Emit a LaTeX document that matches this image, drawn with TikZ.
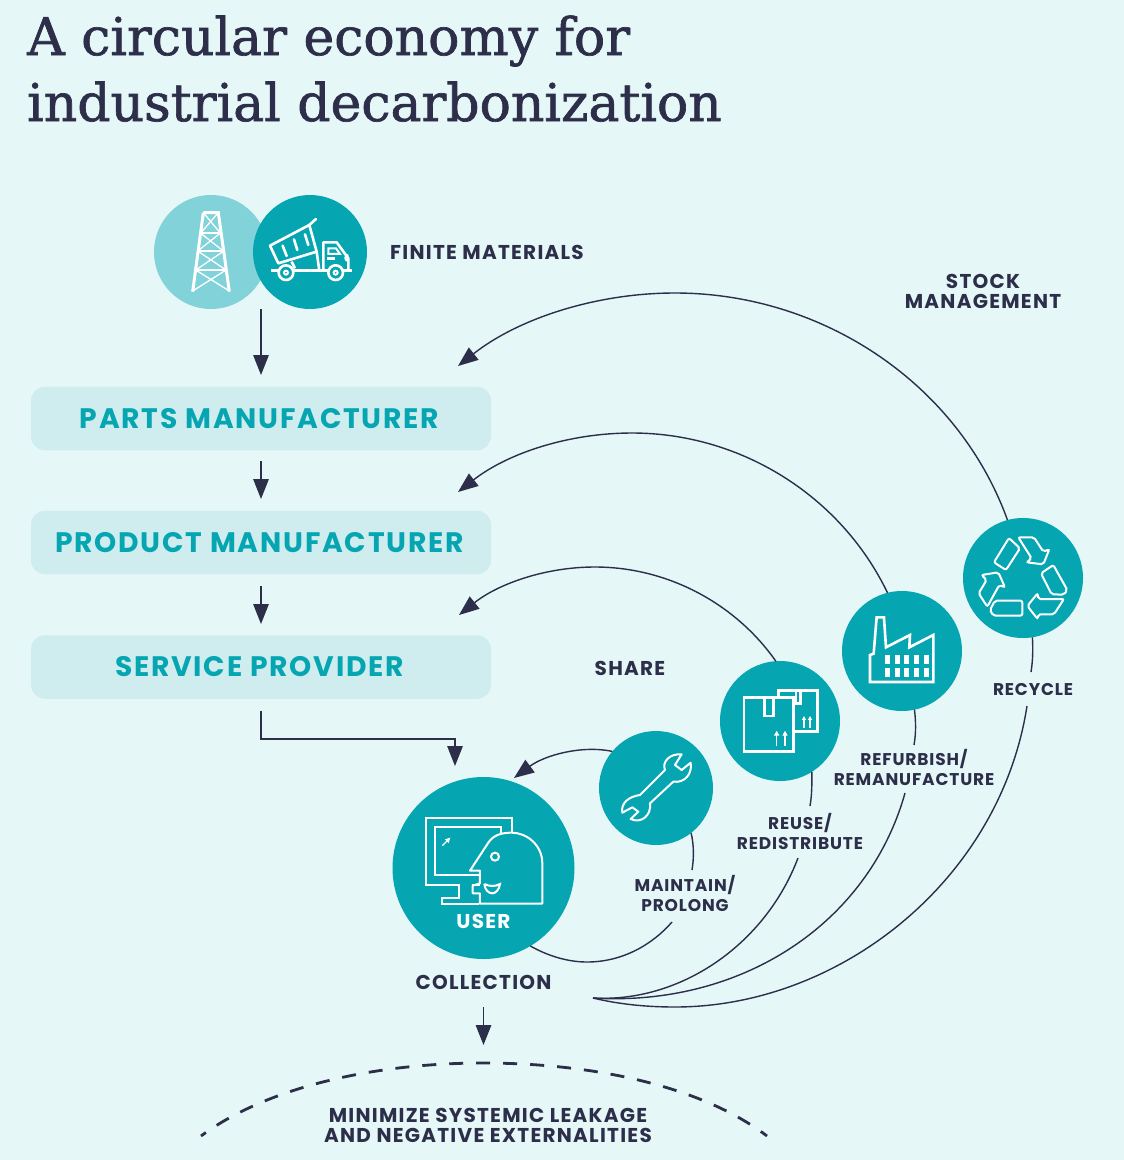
\documentclass[tikz,border=0pt]{standalone}
\usepackage{fontspec}
\setmainfont[LetterSpace=6.3]{Poppins}
\newfontfamily\smallfont[LetterSpace=5]{Poppins}
\newfontfamily\titlefont[FakeBold=1.3]{DejaVu Serif}
\usetikzlibrary{arrows.meta}
\definecolor{bgc}{HTML}{E5F7F7}
\definecolor{teal}{HTML}{06A5B2}
\definecolor{lteal}{HTML}{82D2DA}
\definecolor{boxc}{HTML}{CFEDEF}
\definecolor{ink}{HTML}{2D2E4A}
\tikzset{
 disc/.style={circle,fill=teal,draw=none,inner sep=0pt,outer sep=0pt,minimum size=#1},
 stage/.style={rectangle,rounded corners=14pt,fill=boxc,minimum width=460pt,minimum height=63.5pt,inner sep=0pt,text=teal,font=\bfseries\fontsize{28.2}{30}\selectfont},
 lab/.style={text=ink,align=center,inner sep=0pt,font=\bfseries\fontsize{20}{20}\selectfont},
 labs/.style={text=ink,align=center,inner sep=0pt,font=\smallfont\bfseries\fontsize{17}{20}\selectfont},
 flow/.style={draw=ink,line width=1.4pt,-{Triangle[length=20pt,width=15.5pt]}},
 link/.style={draw=ink,line width=1.4pt},
 icon/.style={draw=white,line width=2pt,line join=miter},
 iconb/.style={draw=white,line width=2.6pt},
 zoomA/.style={shift={(140,180)},x=0.3333pt,y=-0.3333pt},
 zoomB/.style={shift={(380,720)},x=0.3333pt,y=-0.3333pt},
 zoomC/.style={shift={(710,510)},x=0.3333pt,y=-0.3333pt},
}
\begin{document}
\begin{tikzpicture}[x=1pt,y=-1pt]
\fill[bgc] (0,0) rectangle (1124,1160);
\useasboundingbox (0,0) rectangle (1124,1160);
% title
\node[anchor=base west,inner sep=0pt,text=ink,font=\titlefont\fontsize{52}{52}\selectfont] (t1) at (27,55) {A circular economy for};
\node[anchor=base west,inner sep=0pt,text=ink,font=\titlefont\fontsize{52}{52}\selectfont] (t2) at (27,121) {industrial decarbonization};
% discs
\node[disc=114pt,fill=lteal] (tower) at (211,252) {};
\node[disc=114pt] (truck) at (310,252) {};
\node[disc=182pt] (user) at (483.5,868) {};
\node[disc=114pt] (wrench) at (656,788) {};
\node[disc=120pt] (box) at (780,721) {};
\node[disc=120pt] (factory) at (902,651) {};
\node[disc=120pt] (recycle) at (1023,578) {};
% stages
\node[stage] (parts) at (261,418.5) {PARTS MANUFACTURER\kern3pt};
\node[stage] (product) at (261,542.5) {PRODUCT MANUFACTURER\kern3pt};
\node[stage] (service) at (261,667) {SERVICE PROVIDER\kern3pt};
% labels
\node[lab,anchor=west] (finite) at (390,252) {FINITE MATERIALS};
\node[lab] (stock) at (983,291) {STOCK\\MANAGEMENT};
\node[lab] (share) at (630,668) {SHARE};
\node[labs] (lrecycle) at (1033,689) {RECYCLE};
\node[labs] (lrefurb) at (914,767) {REFURBISH/\\REMANUFACTURE};
\node[labs] (lreuse) at (800,831) {REUSE/\\REDISTRIBUTE};
\node[labs] (lmaint) at (685,893) {MAINTAIN/\\PROLONG};
\node[lab,text=white] (luser) at (483.5,921) {USER};
\node[lab] (lcollect) at (483.5,982) {COLLECTION};
\node[lab] (lminim) at (488,1125) {MINIMIZE SYSTEMIC LEAKAGE\\AND NEGATIVE EXTERNALITIES};
% free ends
\coordinate (rawend) at (261,375);
\coordinate (rawstart) at (261,309);
\coordinate (hub) at (593,998);
\coordinate (partsin) at (458,366);
\coordinate (productin) at (458,492);
\coordinate (servicein) at (459,615);
\coordinate (userin) at (514,778);
\coordinate (usertop) at (455,766);
\coordinate (elbowmid) at (261,739);
\coordinate (elbowend) at (455,739);
\coordinate (leakend) at (483.5,1045);
\coordinate (leakstart) at (483.5,1007);
\coordinate (partsa) at (261,461);
\coordinate (prodb) at (261,499);
\coordinate (proda) at (261,586);
\coordinate (servb) at (261,624);
\coordinate (serva) at (261,711);
% straight flows
\draw[flow] (rawstart) -- (rawend);
\draw[flow] (partsa) -- (prodb);
\draw[flow] (proda) -- (servb);
\draw[flow] (serva) -- (elbowmid) -- (elbowend) -- (usertop);
\draw[flow] (leakstart) -- (leakend);
% return arcs
\draw[flow] (recycle.105) .. controls (958,383) and (822,293) .. (675,293) .. controls (597,293) and (519,318) .. (partsin);
\draw[flow] (factory.104) .. controls (841,496) and (741,433) .. (632,433) .. controls (569,433) and (508,453) .. (productin);
\draw[flow] (box.94) .. controls (735,603) and (667,567) .. (595,567) .. controls (545,567) and (498,584) .. (servicein);
\draw[flow] (wrench.140) .. controls (582,745) and (545,755) .. (userin);
% lower arcs
\draw[link] (user.-59) .. controls (548,956) and (568,962) .. (587,962) .. controls (622,962) and (652,945) .. (672,922);
\draw[link] (wrench.-52) .. controls (694,845) and (694,858) .. (692,870);
\draw[link] (box.-58) .. controls (812,782) and (812,795) .. (810,806);
\draw[link] (factory.-78) .. controls (916,722) and (916,734) .. (914,745);
\draw[link] (recycle.-81) .. controls (1033,648) and (1033,660) .. (1031,672);
\draw[link] (798,858) .. controls (765,945) and (680,1003) .. (hub);
\draw[link] (905,793) .. controls (868,925) and (740,1007) .. (hub);
\draw[link] (1027,706) .. controls (1000,880) and (840,1007) .. (675,1007) .. controls (645,1007) and (618,1004) .. (hub);
% dashed boundary
\draw[draw=ink,line width=2.8pt,dash pattern=on 14pt off 13pt,dash phase=8pt] (201,1136) .. controls (270,1085) and (380,1063) .. (483,1063) .. controls (590,1063) and (700,1085) .. (767,1136);
% tower
\begin{scope}[zoomA]
\draw[iconb,line width=3pt] (190,98)--(235,98)--(268,335);
\draw[iconb,line width=3pt] (190,98)--(158,335);
\draw[icon] (180,158)--(243,158) (173,213)--(252,213) (167,270)--(258,270);
\draw[draw=white,line width=1.3pt] (190,98)--(240,158) (235,98)--(183,158) (180,158)--(250,213) (243,158)--(173,213) (173,213)--(258,270) (252,213)--(167,270) (167,270)--(268,333) (258,270)--(158,333);
% truck
\draw[iconb,line join=round] (390,197)--(508,135)--(530,215)--(415,250)--cycle;
\draw[iconb,line cap=round] (508,135)--(528,117);
\draw[iconb,line cap=round] (428,197)--(440,228) (462,178)--(472,210) (495,163)--(505,195);
\draw[iconb] (393,272)--(635,272);
\draw[iconb] (530,215)--(538,272) (455,245)--(465,265);
\draw[iconb,line join=round] (550,272)--(550,187)--(590,187)--(625,235)--(625,272);
\draw[icon] (565,205)--(588,205)--(600,222)--(565,222)--cycle;
\draw[iconb] (562,236)--(585,236);
\draw[icon] (625,243) arc (90:270:9);
\filldraw[iconb,fill=teal] (438,278) circle (22);
\filldraw[iconb,fill=teal] (587,278) circle (22);
\draw[icon] (438,278) circle (6) (587,278) circle (6);
\end{scope}
% user
\begin{scope}[zoomB]
\draw[icon] (395,335)--(395,293)--(137,293)--(137,494)--(238,494)--(238,535)--(187,535)--(187,551)--(298,551);
\draw[icon] (362,345)--(362,322)--(165,322)--(165,465)--(300,465);
\draw[icon,line join=round] (298,551)--(487,551)--(487,430) .. controls (487,375) and (440,338) .. (395,338) .. controls (365,338) and (340,345) .. (325,368)--(270,452)--(300,452)--(300,490)--(278,497)--(278,520)--(300,520)--(300,551);
\draw[icon] (275,494)--(300,494);
\draw[icon] (345,410) circle (12);
\draw[icon] (313,492) .. controls (330,500) and (345,500) .. (360,492) .. controls (358,510) and (345,520) .. (338,520) .. controls (325,520) and (315,510) .. (313,492);
\draw[draw=white,line width=1.4pt,-{Triangle[length=5pt,width=5pt]}] (187,377)--(211,353);
% wrench
\draw[icon,line join=round] (780,225) .. controls (745,230) and (722,250) .. (727,278)--(757,262)--(775,275)--(752,297) .. controls (785,312) and (815,285) .. (810,250)--(880,185) .. controls (915,190) and (938,160) .. (932,128)--(905,150)--(885,135)--(905,103) .. controls (870,100) and (845,125) .. (855,150)--cycle;
\end{scope}
% factory and box, recycling
\begin{scope}[zoomC]
\draw[iconb,line join=miter] (480,516)--(480,435)--(491,431)--(500,322)--(522,322)--(528,412)--(600,375)--(598,412)--(670,375)--(670,516)--cycle;
\foreach \wx in {525,556,583,613,643} {
 \fill[white] (\wx,435) rectangle ++(15,27);
 \fill[white] (\wx,473) rectangle ++(15,27);
}
\draw[iconb] (102,563) rectangle (250,725);
\draw[iconb] (163,563)--(163,618)--(190,618)--(190,563);
\draw[iconb] (205,560)--(205,541)--(322,541)--(322,665)--(250,665);
\draw[iconb] (258,541)--(258,580)--(272,580)--(272,541);
\foreach \ax in {200,225} \draw[draw=white,line width=1.6pt,-{Triangle[length=5pt,width=5pt]}] (\ax,707)--(\ax,662);
\foreach \ax in {282,300} \draw[draw=white,line width=1.4pt,-{Triangle[length=4pt,width=4pt]}] (\ax,653)--(\ax,618);
\begin{scope}[rounded corners=2pt]
\draw[icon] (897,84)--(930,115)--(888,180)--(852,157)--cycle;
\draw[icon] (925,82)--(972,82)--(1000,125)--(1018,118)--(1000,163)--(950,157)--(965,145)--cycle;
\draw[icon] (1030,165)--(1072,240)--(1062,254)--(1025,253)--(993,190)--cycle;
\draw[icon] (1062,267)--(1032,313)--(985,313)--(983,327)--(952,288)--(983,250)--(985,267)--cycle;
\draw[icon] (855,272)--(937,272)--(937,317)--(850,317)--(840,300)--cycle;
\draw[icon] (832,290)--(806,250)--(830,210)--(815,195)--(865,187)--(885,232)--(868,225)--cycle;
\end{scope}
\end{scope}
\end{tikzpicture}
\end{document}
